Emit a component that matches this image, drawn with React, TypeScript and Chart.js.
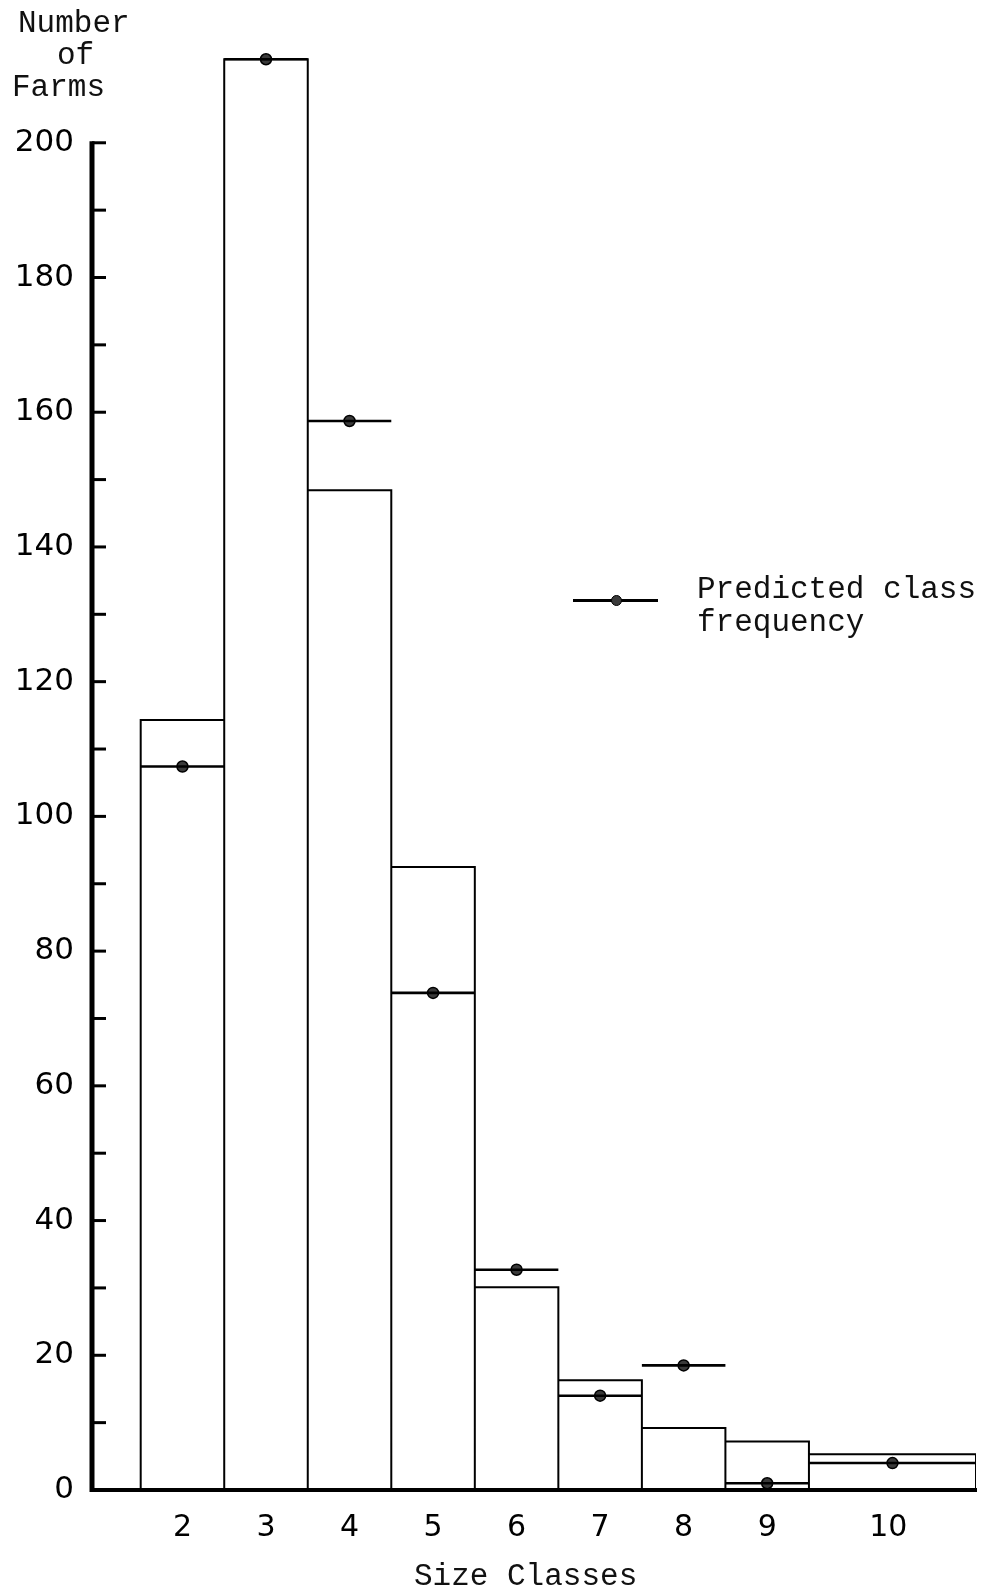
import React, { useEffect, useRef } from 'react';
import { Chart, registerables } from 'chart.js';

Chart.register(...registerables);

// ---- data ----
const sizeClasses = ['2', '3', '4', '5', '6', '7', '8', '9', '10'];
// class boundaries (class 10 is twice as wide)
const classEdges = [1.5, 2.5, 3.5, 4.5, 5.5, 6.5, 7.5, 8.5, 9.5, 11.5];
const observedFarms = [114.3, 212.4, 148.4, 92.5, 30.1, 16.3, 9.2, 7.2, 5.3];
const predictedFarms = [107.4, 212.4, 158.7, 73.8, 32.7, 14.0, 18.5, 1.0, 4.0];
const xTickValues = [2, 3, 4, 5, 6, 7, 8, 9, 10.45];
const yAxisMin = 0;
const yAxisTop = 200; // axis line and ticks stop here
const yRangeMax = 216; // room above the axis for class 3
const yStep = 10;
const yLabelStep = 20;
const xMin = 0.917;
const xMax = 11.5;

type Pt = { x: number; y: number | null };

function buildObserved(): Pt[] {
  const pts: Pt[] = [];
  observedFarms.forEach((v, i) => {
    const a = classEdges[i];
    const b = classEdges[i + 1];
    pts.push({ x: a, y: 0 }, { x: a, y: v }, { x: b, y: v }, { x: b, y: 0 }, { x: b, y: null });
  });
  return pts;
}

function buildPredictedSegments(): Pt[] {
  const pts: Pt[] = [];
  predictedFarms.forEach((v, i) => {
    const a = classEdges[i];
    const b = classEdges[i + 1];
    pts.push({ x: a, y: v }, { x: b, y: v }, { x: b, y: null });
  });
  return pts;
}

function buildPredictedDots(): Pt[] {
  return predictedFarms.map((v, i) => ({ x: (classEdges[i] + classEdges[i + 1]) / 2, y: v }));
}

function yTicks() {
  const t: { value: number }[] = [];
  for (let v = yAxisMin; v <= yAxisTop; v += yStep) t.push({ value: v });
  return t;
}

// y axis line (0..200) and inward tick marks
const yAxisDecor = {
  id: 'yAxisDecor',
  afterDraw(chart: any) {
    const y = chart.scales.y;
    const ctx = chart.ctx;
    const left = chart.chartArea.left;
    ctx.save();
    ctx.strokeStyle = '#000';
    ctx.lineWidth = 5;
    ctx.beginPath();
    ctx.moveTo(left, y.getPixelForValue(yAxisMin) + 2);
    ctx.lineTo(left, y.getPixelForValue(yAxisTop) - 1.5);
    ctx.stroke();
    ctx.lineWidth = 3;
    y.ticks.forEach((t: any) => {
      const py = y.getPixelForValue(t.value);
      ctx.beginPath();
      ctx.moveTo(left, py);
      ctx.lineTo(left + 14, py);
      ctx.stroke();
    });
    ctx.restore();
  },
};

const monoFont = '"Liberation Mono", "DejaVu Sans Mono", monospace';

export default function App() {
  const canvasRef = useRef<HTMLCanvasElement | null>(null);

  useEffect(() => {
    if (!canvasRef.current) return;
    const chart = new Chart(canvasRef.current, {
      type: 'line',
      data: {
        datasets: [
          {
            label: 'Observed',
            data: buildObserved() as any,
            borderColor: '#000',
            borderWidth: 2,
            pointRadius: 0,
            tension: 0,
            fill: false,
            spanGaps: false,
            borderJoinStyle: 'miter',
          },
          {
            label: 'Predicted class frequency',
            data: buildPredictedSegments() as any,
            borderColor: '#000',
            borderWidth: 2.6,
            pointRadius: 0,
            tension: 0,
            fill: false,
            spanGaps: false,
          },
          {
            label: 'Predicted points',
            data: buildPredictedDots() as any,
            showLine: false,
            pointRadius: 5.5,
            pointBackgroundColor: '#3a3a3a',
            pointBorderColor: '#000',
            pointBorderWidth: 1.5,
          },
        ],
      },
      options: {
        animation: false,
        responsive: false,
        events: [],
        layout: { padding: { top: 35, right: 11, left: 0, bottom: 0 } },
        plugins: {
          legend: { display: false },
          tooltip: { enabled: false },
          title: { display: false },
        },
        scales: {
          x: {
            type: 'linear',
            min: xMin,
            max: xMax,
            afterFit(s: any) {
              s.height = 100;
            },
            afterBuildTicks(s: any) {
              s.ticks = xTickValues.map((v) => ({ value: v }));
            },
            ticks: {
              autoSkip: false,
              maxRotation: 0,
              padding: 12,
              color: '#000',
              font: { family: '"DejaVu Sans", sans-serif', size: 30 },
              callback: (_v: any, i: number) => sizeClasses[i],
            },
            grid: { display: false },
            border: { display: true, width: 4, color: '#000' },
          },
          y: {
            type: 'linear',
            min: yAxisMin,
            max: yRangeMax,
            afterFit(s: any) {
              s.width = 92;
            },
            afterBuildTicks(s: any) {
              s.ticks = yTicks();
            },
            ticks: {
              padding: 10,
              color: '#000',
              font: { family: '"DejaVu Sans", sans-serif', size: 31 },
              callback: (v: any) => (Number(v) % yLabelStep === 0 ? String(v) : ''),
            },
            grid: { display: false },
            border: { display: false },
          },
        },
      },
      plugins: [yAxisDecor],
    } as any);
    return () => chart.destroy();
  }, []);

  const textStyle: React.CSSProperties = {
    position: 'absolute',
    fontFamily: monoFont,
    fontSize: 31,
    lineHeight: '31px',
    color: '#111',
    whiteSpace: 'pre',
  };

  return (
    <div style={{ position: 'absolute', left: 0, top: 0, width: 987, height: 1590, background: '#fff', overflow: 'hidden' }}>
      <canvas ref={canvasRef} width={987} height={1590} style={{ position: 'absolute', left: 0, top: 0 }} />
      <div style={{ ...textStyle, left: 18, top: 8 }}>Number</div>
      <div style={{ ...textStyle, left: 57, top: 40 }}>of</div>
      <div style={{ ...textStyle, left: 12, top: 72 }}>Farms</div>
      <div style={{ ...textStyle, left: 414, top: 1561 }}>Size Classes</div>
      <div style={{ ...textStyle, left: 697, top: 574 }}>Predicted class</div>
      <div style={{ ...textStyle, left: 697, top: 607 }}>frequency</div>
      <div style={{ position: 'absolute', left: 573, top: 599, width: 85, height: 3, background: '#000' }} />
      <div
        style={{
          position: 'absolute',
          left: 610.5,
          top: 595,
          width: 11,
          height: 11,
          borderRadius: '50%',
          background: '#3a3a3a',
          border: '1.5px solid #000',
          boxSizing: 'border-box',
        }}
      />
    </div>
  );
}
